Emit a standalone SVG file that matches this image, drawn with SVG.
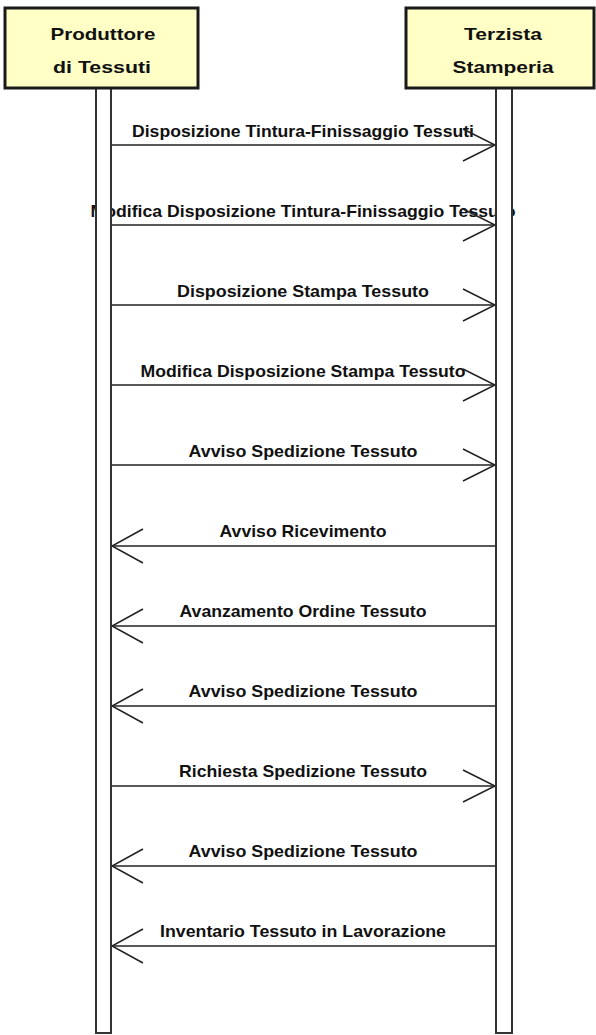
<svg xmlns="http://www.w3.org/2000/svg" width="596" height="1035" viewBox="0 0 596 1035">
<style>
.box{fill:#ffffc6;stroke:#1a1a1a;stroke-width:3}
.bar{fill:#ffffff;stroke:#333333;stroke-width:2}
.hd{font-family:"Liberation Sans",Arial,sans-serif;font-weight:bold;font-size:17px;fill:#111;text-anchor:middle}
.lb{font-family:"Liberation Sans",Arial,sans-serif;font-weight:bold;font-size:17px;fill:#111;text-anchor:middle}
.msg line,.msg polyline{stroke:#222;stroke-width:1.5;fill:none}
</style>
<rect width="596" height="1035" fill="#ffffff"/>
<g id="labels">
<text class="lb" x="303" y="137" textLength="342" lengthAdjust="spacingAndGlyphs">Disposizione Tintura-Finissaggio Tessuti</text>
<text class="lb" x="303" y="217" textLength="425" lengthAdjust="spacingAndGlyphs">Modifica Disposizione Tintura-Finissaggio Tessuto</text>
<text class="lb" x="303" y="297" textLength="252" lengthAdjust="spacingAndGlyphs">Disposizione Stampa Tessuto</text>
<text class="lb" x="303" y="377" textLength="325" lengthAdjust="spacingAndGlyphs">Modifica Disposizione Stampa Tessuto</text>
<text class="lb" x="303" y="457" textLength="229" lengthAdjust="spacingAndGlyphs">Avviso Spedizione Tessuto</text>
<text class="lb" x="303" y="537" textLength="167" lengthAdjust="spacingAndGlyphs">Avviso Ricevimento</text>
<text class="lb" x="303" y="617" textLength="247" lengthAdjust="spacingAndGlyphs">Avanzamento Ordine Tessuto</text>
<text class="lb" x="303" y="697" textLength="229" lengthAdjust="spacingAndGlyphs">Avviso Spedizione Tessuto</text>
<text class="lb" x="303" y="777" textLength="248" lengthAdjust="spacingAndGlyphs">Richiesta Spedizione Tessuto</text>
<text class="lb" x="303" y="857" textLength="229" lengthAdjust="spacingAndGlyphs">Avviso Spedizione Tessuto</text>
<text class="lb" x="303" y="937" textLength="286" lengthAdjust="spacingAndGlyphs">Inventario Tessuto in Lavorazione</text>
</g>
<g id="connectors" class="msg">
<line x1="111" y1="145" x2="495" y2="145"/><polyline points="463,129 495,145 463,161"/>
<line x1="111" y1="225" x2="495" y2="225"/><polyline points="463,209 495,225 463,241"/>
<line x1="111" y1="305" x2="495" y2="305"/><polyline points="463,289 495,305 463,321"/>
<line x1="111" y1="385" x2="495" y2="385"/><polyline points="463,369 495,385 463,401"/>
<line x1="111" y1="465" x2="495" y2="465"/><polyline points="463,449 495,465 463,481"/>
<line x1="112" y1="546" x2="495" y2="546"/><polyline points="143,529 112,546 143,563"/>
<line x1="112" y1="626" x2="495" y2="626"/><polyline points="143,609 112,626 143,643"/>
<line x1="112" y1="706" x2="495" y2="706"/><polyline points="143,689 112,706 143,723"/>
<line x1="111" y1="786" x2="495" y2="786"/><polyline points="463,770 495,786 463,802"/>
<line x1="112" y1="866" x2="495" y2="866"/><polyline points="143,849 112,866 143,883"/>
<line x1="112" y1="946" x2="495" y2="946"/><polyline points="143,929 112,946 143,963"/>
</g>
<g id="produttore">
<rect class="bar" x="96" y="88" width="15" height="945"/>
<rect class="box" x="5" y="8" width="193" height="80"/>
<text class="hd" x="103" y="40" textLength="105" lengthAdjust="spacingAndGlyphs">Produttore</text>
<text class="hd" x="102" y="73" textLength="98" lengthAdjust="spacingAndGlyphs">di Tessuti</text>
</g>
<g id="terzista">
<rect class="bar" x="496" y="88" width="16" height="945"/>
<rect class="box" x="406" y="8" width="188" height="80"/>
<text class="hd" x="503" y="40" textLength="78" lengthAdjust="spacingAndGlyphs">Terzista</text>
<text class="hd" x="503" y="73" textLength="101" lengthAdjust="spacingAndGlyphs">Stamperia</text>
</g>
</svg>
